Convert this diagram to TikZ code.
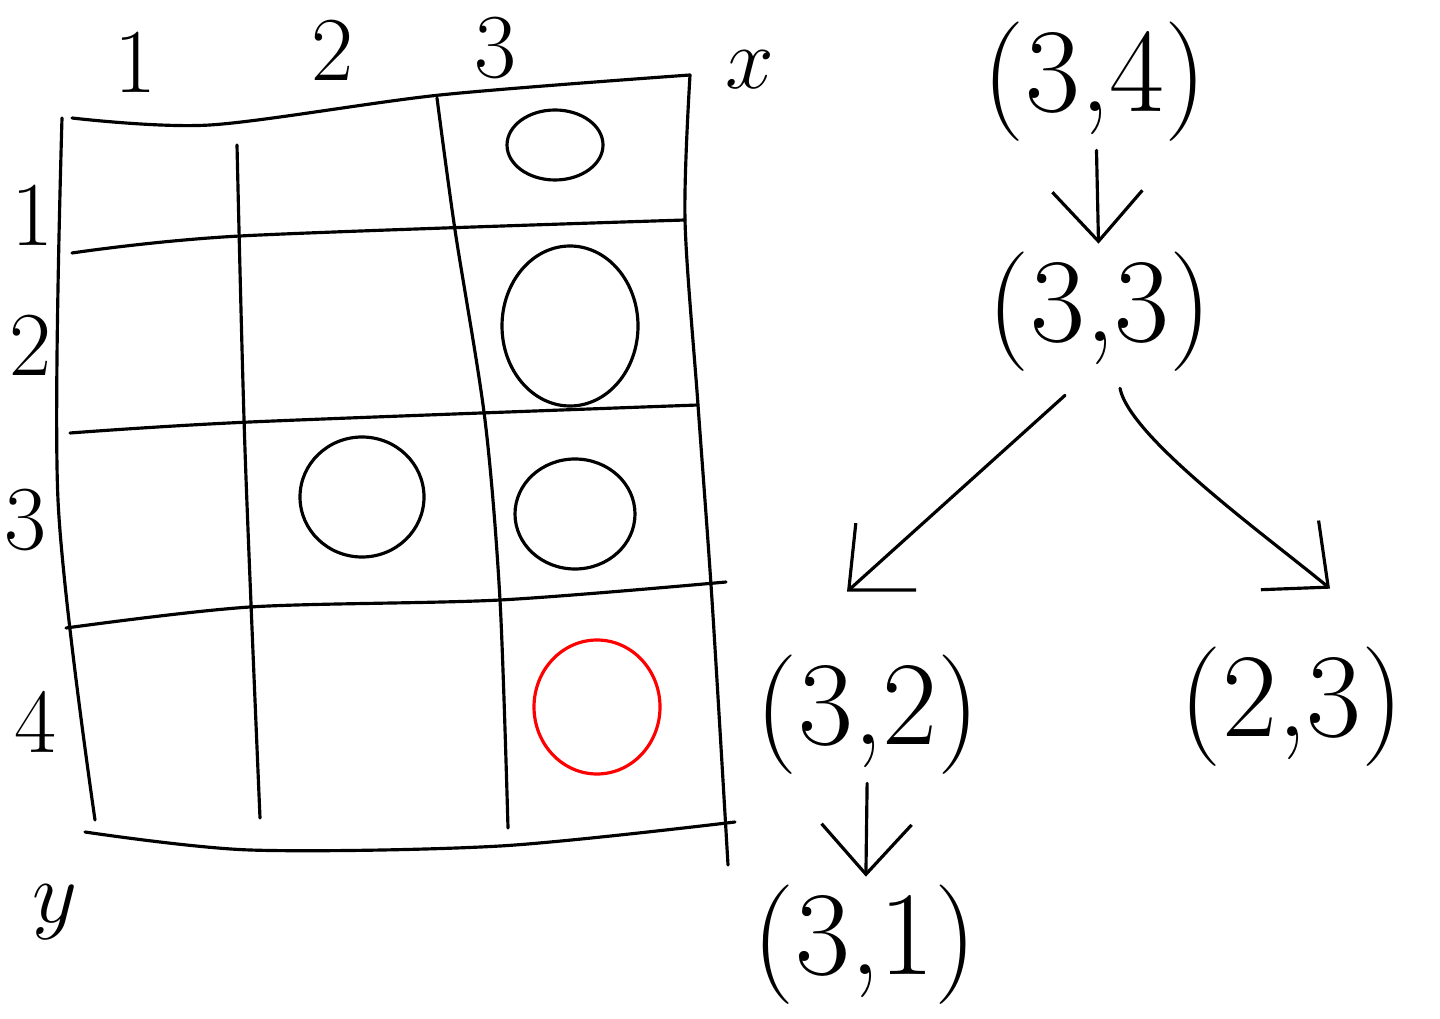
\documentclass[tikz,border=0pt]{standalone}
\usetikzlibrary{arrows.meta, calc, positioning}
\begin{document}
\begin{tikzpicture}[x=0.01cm,y=-0.01cm,line width=0.9pt,line cap=round,line join=round,
  lab/.style={font=\fontsize{26}{28}\selectfont, inner sep=0pt},
  pair/.style={font=\fontsize{34}{36}\selectfont, inner sep=2pt},
  arr/.style={-{Straight Barb[length=5mm,width=9mm]}}]
\useasboundingbox (0,0) rectangle (1440,1019);
% grid, drawn by hand
\draw plot[smooth] coordinates {(72,118) (210,125) (440,95) (690,75)};
\draw plot[smooth] coordinates {(72,253) (240,236) (685,220)};
\draw plot[smooth] coordinates {(70,433) (250,422) (698,405)};
\draw plot[smooth] coordinates {(66,628) (250,607) (500,600) (726,582)};
\draw plot[smooth] coordinates {(85,832) (250,850) (500,846) (735,822)};
\draw plot[smooth] coordinates {(62,118) (58,500) (95,820)};
\draw plot[smooth] coordinates {(237,145) (245,450) (260,818)};
\draw plot[smooth] coordinates {(437,98) (455,230) (485,420) (500,600) (508,828)};
\draw plot[smooth] coordinates {(690,75) (685,220) (698,405) (712,600) (728,865)};
% stones
\draw (555,145) ellipse [x radius=48, y radius=35];
\draw (570,326) ellipse [x radius=68, y radius=80];
\draw (362,497) ellipse [x radius=62, y radius=60];
\draw (575,514) ellipse [x radius=60, y radius=55];
\draw[red] (597,707) ellipse [x radius=63, y radius=67];
% axis labels
\node[lab] (c1) at (135,62) {1};
\node[lab] (c2) at (332,50) {2};
\node[lab] (c3) at (495,48) {3};
\node[lab] (cx) at (750,70) {$x$};
\node[lab] (r1) at (32,215) {1};
\node[lab] (r2) at (30,345) {2};
\node[lab] (r3) at (25,520) {3};
\node[lab] (r4) at (35,722) {4};
\node[lab] (ry) at (55,912) {$y$};
% search tree
\node[pair] (t34) at (1095,82) {(3,4)};
\node[pair] (t33) at (1100,312) {(3,3)};
\node[pair] (t32) at (868,715) {(3,2)};
\node[pair] (t23) at (1292,707) {(2,3)};
\node[pair] (t31) at (865,945) {(3,1)};
\draw[arr] (t34) -- (t33);
\draw[arr] ($(t33.south)+(-35,15)$) -- ($(t32.north)+(-21,-55)$);
\draw[arr] ($(t33.south)+(20,8)$) .. controls +(10,50) and +(-60,-50) .. ($(t23.north)+(38,-50)$);
\draw[arr] (t32) -- (t31);
\end{tikzpicture}
\end{document}
